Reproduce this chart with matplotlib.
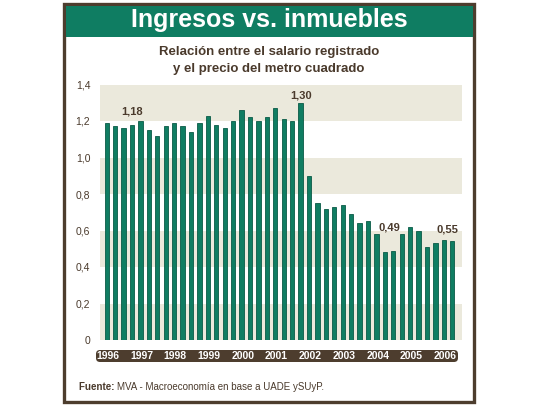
import matplotlib
matplotlib.use("Agg")
import matplotlib.pyplot as plt
from matplotlib.patches import Rectangle, FancyBboxPatch
import numpy as np

FONT = ["Liberation Sans", "DejaVu Sans"]
plt.rcParams["font.family"] = FONT

# quarterly ratio salary / price per m2, 1996 Q1 .. 2006 Q2
ratio = [1.19, 1.17, 1.16, 1.18, 1.20, 1.15, 1.12, 1.17, 1.19, 1.17, 1.14, 1.19,
         1.23, 1.18, 1.16, 1.20, 1.26, 1.22, 1.20, 1.22, 1.27, 1.21, 1.20, 1.30,
         0.90, 0.75, 0.72, 0.73, 0.74, 0.69, 0.64, 0.65, 0.58, 0.48, 0.49, 0.58,
         0.62, 0.60, 0.51, 0.53, 0.55, 0.54]
years = ["1996", "1997", "1998", "1999", "2000", "2001",
         "2002", "2003", "2004", "2005", "2006"]
yticks = [0, 0.2, 0.4, 0.6, 0.8, 1.0, 1.2, 1.4]
ytick_labels = ["0", "0,2", "0,4", "0,6", "0,8", "1,0", "1,2", "1,4"]
callouts = [(3, "1,18"), (23, "1,30"), (33.5, "0,49"), (40.4, "0,55")]
callout_y = [1.25, 1.342, 0.615, 0.608]

GREEN = "#0f7d62"
BROWN = "#4d3d2e"
BAND = "#ebe9dc"
TXT = "#4a3a2c"

W, H = 540, 405
fig = plt.figure(figsize=(W / 100, H / 100), dpi=100)
fig.patch.set_facecolor("white")

# background layer in pixel coordinates
bg = fig.add_axes([0, 0, 1, 1])
bg.set_xlim(0, W); bg.set_ylim(H, 0); bg.axis("off")
bg.add_patch(Rectangle((64, 4), 410, 397.5, fc="white", ec=BROWN, lw=2.4))
bg.add_patch(Rectangle((65.5, 5.5), 407, 31, fc=GREEN, ec="none"))
bg.text(269, 20.5, "Ingresos vs. inmuebles", color="white", fontsize=18,
        fontweight="bold", ha="center", va="center")
bg.text(269, 52, "Relación entre el salario registrado", color=TXT, fontsize=9.5,
        fontweight="bold", ha="center", va="center")
bg.text(269, 69, "y el precio del metro cuadrado", color=TXT, fontsize=9.5,
        fontweight="bold", ha="center", va="center")
bg.add_patch(FancyBboxPatch((96, 350), 362, 12,
             boxstyle="round,pad=0,rounding_size=4", fc=BROWN, ec="none"))
src1 = bg.text(79, 387, "Fuente: ", color=TXT, fontsize=7, fontweight="bold",
               ha="left", va="center")
fig.canvas.draw()
bb = src1.get_window_extent()
x_next = bb.x1  # display pixels == data pixels here
bg.text(x_next, 387, "MVA - Macroeconomía en base a UADE ySUyP.", color=TXT,
        fontsize=7, ha="left", va="center")

# chart
x = np.arange(len(ratio))
ax = fig.add_axes([100 / W, (H - 340) / H, 362 / W, (340 - 84.5) / H])
ax.set_xlim(-0.8, 42.15)
ax.set_ylim(0, 1.4)
ax.patch.set_alpha(0)
for lo in (0.0, 0.4, 0.8, 1.2):
    ax.axhspan(lo, lo + 0.2, color=BAND, lw=0, zorder=0)
ax.bar(x, ratio, width=0.5, color=GREEN, edgecolor="#0a5a46", lw=0.6, zorder=2)

for (cx, t), cy in zip(callouts, callout_y):
    ax.text(cx, cy, t, color=TXT, fontsize=8, fontweight="bold",
            ha="center", va="center")

ax.set_yticks(yticks)
ax.set_yticklabels(ytick_labels)
ax.set_xticks(x[::4] + 0.15)
ax.set_xticklabels(years)
ax.tick_params(axis="y", length=0, pad=7, labelsize=7.5, labelcolor=TXT)
ax.tick_params(axis="x", length=0, pad=7.6, labelsize=7.5, labelcolor="white")
for lab in ax.get_xticklabels():
    lab.set_fontweight("bold")
for s in ax.spines.values():
    s.set_visible(False)

fig.savefig("out.png", dpi=100)
